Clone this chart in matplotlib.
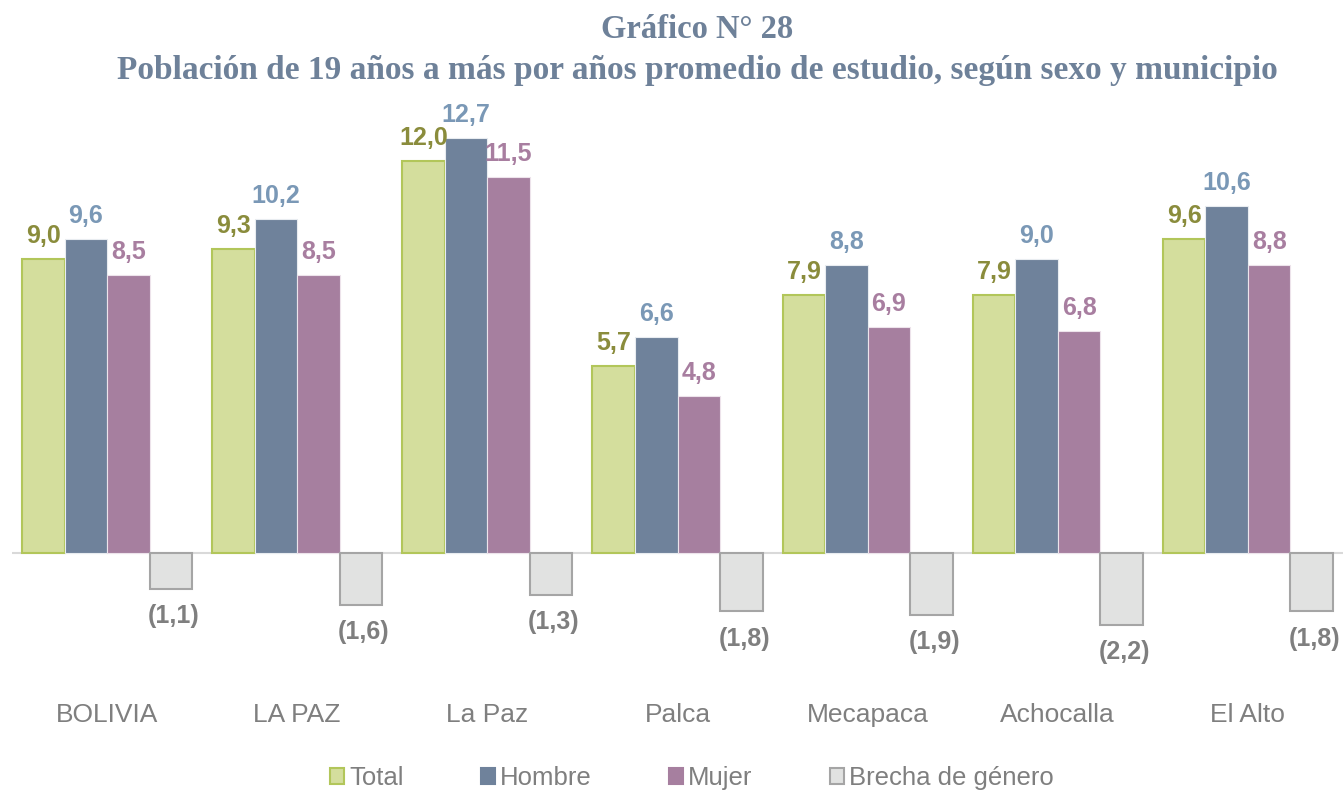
import numpy as np
import matplotlib.pyplot as plt
from matplotlib.patches import Patch

categories = ["BOLIVIA", "LA PAZ", "La Paz", "Palca", "Mecapaca", "Achocalla", "El Alto"]
total = [9.0, 9.3, 12.0, 5.7, 7.9, 7.9, 9.6]
hombre = [9.6, 10.2, 12.7, 6.6, 8.8, 9.0, 10.6]
mujer = [8.5, 8.5, 11.5, 4.8, 6.9, 6.8, 8.8]
brecha = [-1.1, -1.6, -1.3, -1.8, -1.9, -2.2, -1.8]
series_names = ["Total", "Hombre", "Mujer", "Brecha de género"]

fills = ["#D4DE9D", "#6F829B", "#A67F9F", "#E1E2E1"]
edges = ["#B2C65A", "#E8ECF0", "#EDE3EB", "#A5A5A5"]
label_colors = ["#8A8C3C", "#7A98B6", "#A87EA0", "#7F7F7F"]

plt.rcParams['font.family'] = ['Liberation Sans', 'DejaVu Sans']

fig = plt.figure(figsize=(13.43, 7.9), dpi=100)
ax = fig.add_axes([12 / 1343, 1 - 667 / 790, 1 - 12 / 1343, (667 - 128) / 790])

x = np.arange(len(categories))
w = 0.2237
offsets = [-1.5 * w, -0.5 * w, 0.5 * w, 1.5 * w]


def fmt(v):
    s = f"{abs(v):.1f}".replace(".", ",")
    return f"({s})" if v < 0 else s


for i, vals in enumerate([total, hombre, mujer, brecha]):
    bars = ax.bar(x + offsets[i], vals, w, color=fills[i], edgecolor=edges[i],
                  linewidth=1.5 if i in (0, 3) else 0.8, zorder=2)
    for b, v in zip(bars, vals):
        cx = b.get_x() + b.get_width() / 2
        if v >= 0:
            ax.annotate(fmt(v), (cx, v), xytext=(0, 11.5), textcoords="offset points",
                        ha="center", va="baseline", fontsize=18, fontweight="bold",
                        color=label_colors[i])
        else:
            ax.annotate(fmt(v), (cx + 0.015, v), xytext=(0, -19.5), textcoords="offset points",
                        ha="center", va="center", fontsize=18, fontweight="bold",
                        color=label_colors[i])

ax.axhline(0, color="#D9D9D9", linewidth=1.5, zorder=1)
ax.set_xlim(-0.5, 6.5)
ax.set_ylim(-3.5, 13)
ax.set_xticks(x)
ax.set_xticklabels(categories, fontsize=19, color="#7F7F7F")
ax.tick_params(axis="x", length=0, pad=26)
ax.set_yticks([])
for s in ax.spines.values():
    s.set_visible(False)

title_color = "#6E8199"
fig.text(697 / 1343, 1 - 30 / 790, "Gráfico N° 28", ha="center", va="center",
         fontsize=23.5, fontweight="bold", color=title_color, family="Liberation Serif")
fig.text(697 / 1343, 1 - 70 / 790,
         "Población de 19 años a más por años promedio de estudio, según sexo y municipio",
         ha="center", va="center", fontsize=24, fontweight="bold", color=title_color,
         family="Liberation Serif")

handles = [Patch(facecolor=fills[i], edgecolor=edges[i] if i in (0, 3) else fills[i],
                 linewidth=1.5) for i in range(4)]
fig.legend(handles, series_names, loc="center", bbox_to_anchor=(692 / 1343, 1 - 778 / 790),
           ncol=4, frameon=False, fontsize=18.5, handlelength=0.55, handleheight=0.55,
           handletextpad=0.2, columnspacing=3.0, labelcolor="#7F7F7F")

fig.savefig("out.png", dpi=100)
